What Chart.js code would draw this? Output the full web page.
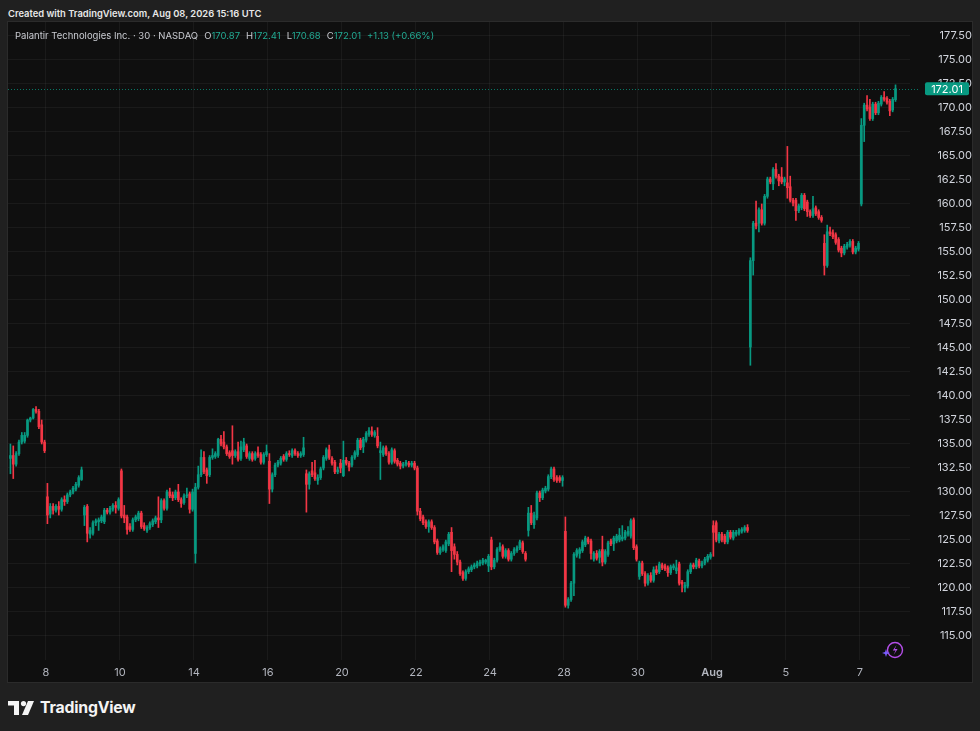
<!DOCTYPE html>
<html>
<head>
<meta charset="utf-8">
<script src="https://cdn.jsdelivr.net/npm/chart.js@4.4.1/dist/chart.umd.min.js"></script>
<style>
  html, body { margin: 0; padding: 0; background: #202020; }
  body { width: 980px; height: 731px; position: relative; overflow: hidden; font-family: Inter, "Noto Sans", sans-serif; }
  #created { position: absolute; left: 8px; top: 8px; color: #e8e8e8; font-size: 9.4px; font-weight: 600; }
  #panel { position: absolute; left: 8px; top: 22px; width: 964px; height: 660px; background: #0f0f0f; }
  #frame { position: absolute; left: 7px; top: 21px; width: 964px; height: 660px; border: 1px solid #2b2b2b; pointer-events: none; }
  #legend { position: absolute; left: 15px; top: 30px; color: #c9cbd1; font-size: 9.5px; white-space: nowrap; }
  #legend .v { color: #22ab94; }
  #legend .g { margin-left: 6px; }
  #logo { position: absolute; left: 8px; top: 698px; display: flex; align-items: center; }
  #logo span { color: #f4f4f4; font-size: 15.8px; font-weight: 700; margin-left: 6px; letter-spacing: -0.2px; }
  #bolt { position: absolute; left: 881px; top: 639px; }
</style>
</head>
<body>
<div id="created">Created with TradingView.com, Aug 08, 2026 15:16 UTC</div>
<div id="panel"><canvas id="chart" width="964" height="660"></canvas></div>
<div id="frame"></div>
<div id="legend">Palantir Technologies Inc. · 30 · NASDAQ<span class="g">O</span><span class="v">170.87</span><span class="g">H</span><span class="v">172.41</span><span class="g">L</span><span class="v">170.68</span><span class="g">C</span><span class="v">172.01</span><span class="v g">+1.13 (+0.66%)</span></div>
<svg id="bolt" width="24" height="22" viewBox="0 0 24 22">
  <circle cx="14" cy="11" r="7.5" fill="none" stroke="#b44ee8" stroke-width="1.4"/>
  <path d="M15.5 6 L11.8 11.5 L14.6 11.5 L12.6 16 L16.6 10 L13.8 10 Z" fill="#b44ee8"/>
  <path d="M5 10 L6 13 L9 14 L6 15 L5 18 L4 15 L1 14 L4 13 Z" fill="#7a5cff"/>
</svg>
<div id="logo">
  <svg width="26" height="14" viewBox="0 0 26 14">
    <path d="M0 0 H11 V14 H6 V4.5 H0 Z" fill="#f4f4f4"/>
    <circle cx="15.5" cy="2.6" r="2.6" fill="#f4f4f4"/>
    <path d="M20 0 H26 L20 14 H14 Z" fill="#f4f4f4"/>
  </svg>
  <span>TradingView</span>
</div>
<script>
// PLTR 30-minute bars, Jul 7 - Aug 7 (13 bars per session)
const opens = [
  133.5,133.8,132.9,134.0,135.2,135.3,135.9,137.5,137.7,138.6,138.4,137.0,135.2,
  129.5,127.7,128.5,128.1,128.5,128.2,129.2,129.0,129.7,130.0,130.3,130.7,131.3,
  127.6,128.5,125.6,125.7,126.8,126.9,127.0,126.9,128.1,127.9,128.2,128.6,128.3,
  132.2,127.6,127.4,126.4,126.1,127.1,127.2,127.8,126.5,126.0,126.3,126.6,126.9,
  127.3,127.1,129.1,128.3,130.0,129.7,129.4,130.0,129.2,128.9,129.6,129.8,128.2,
  123.6,130.5,131.8,133.6,132.3,131.8,133.6,133.7,133.8,135.5,135.2,134.7,134.1,
  134.3,133.8,134.2,133.5,134.4,134.8,133.5,134.0,133.5,134.1,133.9,133.1,133.9,
  133.2,130.3,131.8,132.8,133.0,133.7,133.4,134.0,133.8,134.3,134.0,133.8,133.9,
  131.9,130.8,132.2,132.0,131.2,131.5,132.5,133.5,134.4,133.5,133.1,132.1,133.0,
  131.7,133.3,133.0,132.8,133.6,133.9,135.4,134.7,135.4,136.0,136.3,135.9,135.8,
  134.1,133.9,134.6,134.0,133.1,134.3,133.3,133.0,132.7,132.9,133.0,132.8,133.0,
  132.5,128.0,127.4,126.9,126.4,126.9,126.3,124.9,123.7,124.0,123.9,124.6,125.8,
  124.3,123.5,122.7,121.6,121.0,121.7,121.9,122.2,122.3,122.5,122.6,122.7,122.3,
  125.0,122.2,122.9,124.0,124.3,123.3,123.9,123.0,123.6,123.9,124.2,124.7,123.6,
  126.0,127.8,126.6,127.3,129.9,129.4,130.1,130.3,131.6,132.4,131.5,131.5,131.2,
  125.9,118.2,118.8,120.5,123.4,123.6,123.9,124.5,125.1,124.9,123.0,123.6,123.2,
  124.0,122.7,123.5,124.9,124.6,124.9,125.0,125.1,125.2,125.6,125.4,127.1,124.3,
  121.2,122.6,121.5,120.5,121.3,120.8,121.9,121.7,122.4,122.3,122.1,121.6,122.1,
  121.8,122.5,120.6,120.0,120.2,121.7,122.4,122.2,122.8,122.3,122.6,122.9,123.2,
  126.5,126.8,124.9,125.6,125.4,124.8,125.8,125.2,125.6,125.7,125.9,126.0,126.3,
  145.1,154.1,158.0,158.0,159.4,158.0,160.8,162.6,162.1,163.6,162.9,162.8,162.3,
  162.2,161.8,160.4,160.4,159.3,159.6,160.9,160.2,159.2,158.8,159.6,159.2,158.6,
  155.9,153.6,157.1,157.0,156.8,156.3,155.4,154.9,155.5,155.7,156.1,155.0,155.3,
  160.0,168.2,170.3,170.1,168.9,170.4,169.5,170.4,171.1,171.0,170.7,169.8,170.87
];
const highs = [
  135.0,134.8,134.2,135.4,136.2,136.2,137.6,137.8,138.7,138.9,138.6,137.5,135.4,
  130.9,128.8,128.8,128.7,129.0,129.4,129.6,129.9,130.2,130.6,131.0,131.7,132.6,
  128.6,128.7,126.3,127.0,127.2,127.3,127.6,128.3,128.3,128.5,128.8,129.0,129.4,
  132.4,128.6,127.6,126.7,127.3,127.6,128.0,128.0,126.8,126.5,126.9,127.2,127.5,
  129.5,129.3,129.3,130.2,130.4,130.0,130.2,130.8,129.4,129.8,130.4,130.0,130.3,
  130.9,132.7,134.4,134.2,132.5,133.8,134.5,134.2,135.6,135.9,136.3,134.9,134.3,
  136.9,134.4,135.2,135.3,135.6,135.0,134.2,134.2,134.2,134.7,134.1,134.1,134.9,
  134.0,132.0,133.0,133.3,133.7,133.9,134.2,134.3,134.5,134.5,134.2,134.2,135.7,
  132.3,132.1,133.1,133.3,131.8,132.6,133.8,134.6,134.9,133.7,133.3,132.6,133.4,
  135.3,133.6,133.2,133.8,134.3,135.6,135.6,135.7,136.3,136.7,136.8,136.4,136.7,
  135.2,134.8,134.8,134.2,134.6,134.5,133.5,133.2,133.1,133.3,133.2,133.2,133.2,
  132.7,128.3,127.6,127.1,127.1,127.1,126.5,125.1,124.3,124.5,125.0,125.8,126.3,
  124.6,123.8,122.9,121.8,121.9,122.2,122.4,122.6,122.8,122.9,123.1,123.0,123.5,
  125.3,123.1,124.2,124.7,124.5,124.1,124.1,123.8,124.2,124.4,125.0,124.9,123.8,
  128.4,128.6,127.9,130.1,130.1,130.4,130.6,131.8,132.6,132.6,131.7,131.7,131.7,
  127.4,119.0,120.7,123.7,124.1,124.2,125.0,125.4,125.3,125.1,123.8,123.9,124.0,
  125.4,124.0,124.9,125.1,125.4,125.6,126.2,126.5,126.0,126.4,127.2,127.3,124.5,
  122.8,122.8,121.7,121.5,121.6,122.2,122.3,122.7,122.6,122.5,122.3,122.4,122.5,
  122.9,122.7,120.8,120.6,121.9,122.6,122.6,123.1,123.0,122.8,123.2,123.5,123.7,
  127.0,127.0,125.8,125.8,125.6,126.0,126.0,126.0,126.0,126.2,126.3,126.5,126.6,
  154.4,158.2,160.3,159.6,160.0,161.0,162.8,162.8,163.8,164.2,163.1,163.8,162.8,
  166.0,162.9,160.6,160.6,160.0,161.1,161.1,160.4,159.4,160.8,159.8,159.4,158.8,
  156.8,157.8,157.6,157.3,157.0,156.5,155.6,155.8,156.0,156.3,156.3,155.6,156.1,
  168.9,170.5,171.3,170.9,170.6,170.6,170.7,171.3,171.7,171.2,170.9,171.1,172.41
];
const lows = [
  131.9,131.4,132.7,133.8,135.0,135.1,135.7,137.3,137.6,138.2,136.6,135.0,134.1,
  126.7,127.3,127.7,127.9,127.6,128.0,128.6,128.8,129.5,129.8,130.1,130.5,131.2,
  126.5,124.8,125.2,125.5,126.5,126.0,126.8,126.7,127.7,127.7,128.0,127.8,128.1,
  127.3,126.8,125.6,125.9,125.9,126.9,127.0,126.2,126.0,125.8,126.1,126.4,126.7,
  126.3,126.8,128.1,128.1,129.4,129.1,129.2,129.0,128.4,128.7,129.4,127.8,128.0,
  122.6,130.3,131.6,131.9,130.9,131.6,133.4,133.5,133.6,134.8,134.5,133.8,133.5,
  132.9,133.6,133.2,133.3,134.2,133.5,133.3,133.2,133.3,133.6,132.9,132.9,133.7,
  128.8,130.0,131.6,132.6,132.8,133.2,133.2,133.7,133.6,133.8,133.6,133.6,133.7,
  127.9,130.3,131.6,131.2,130.8,131.3,132.3,133.3,133.4,132.8,131.9,131.9,132.0,
  131.6,132.8,132.2,132.6,133.4,133.7,134.4,134.1,135.2,135.8,135.8,135.7,134.6,
  131.3,133.7,133.8,132.9,132.9,133.0,132.7,132.4,132.5,132.7,132.6,132.6,132.3,
  127.6,127.0,126.6,126.2,125.8,126.1,124.6,123.5,123.5,123.8,123.7,124.4,121.7,
  123.0,122.4,121.3,120.8,120.8,121.5,121.7,122.0,122.1,122.3,122.4,122.5,121.7,
  121.9,122.0,122.7,123.8,123.1,123.1,122.8,122.8,123.4,123.7,124.0,123.6,122.8,
  125.4,126.6,126.2,127.1,129.0,129.2,129.9,130.1,131.4,131.1,131.0,131.0,130.6,
  118.0,117.9,118.6,119.2,123.2,123.1,123.7,124.3,124.6,123.0,122.8,122.9,122.6,
  122.3,122.5,123.3,124.4,123.9,124.7,124.8,124.9,125.0,125.4,125.2,124.0,122.8,
  120.9,121.3,120.2,120.3,120.6,120.6,121.4,121.5,121.9,121.8,121.2,121.4,121.9,
  121.5,120.3,119.6,119.6,120.0,121.5,122.0,122.0,122.1,122.1,122.4,122.7,123.0,
  123.3,124.8,124.7,124.8,124.6,124.6,125.1,125.0,125.4,125.5,125.7,125.8,125.8,
  143.2,152.6,157.4,157.1,157.8,157.8,160.6,162.1,161.5,162.7,161.9,162.1,161.9,
  160.6,160.2,159.8,158.3,159.1,159.4,159.3,158.7,158.6,158.6,158.8,158.4,158.1,
  152.6,153.4,156.7,156.4,155.8,155.0,154.5,154.7,155.3,155.5,154.8,154.8,155.1,
  159.8,166.5,169.7,168.7,168.7,169.3,169.3,170.2,170.7,170.4,169.2,169.6,170.68
];
const closes = [
  133.8,132.9,134.0,135.2,135.9,135.9,137.5,137.7,138.6,138.4,136.8,135.2,134.3,
  127.6,128.5,128.1,128.5,128.2,129.2,129.0,129.7,130.0,130.4,130.8,131.5,132.3,
  128.4,125.7,126.0,126.8,127.0,127.1,127.4,128.1,127.9,128.3,128.6,128.4,129.2,
  127.5,127.3,126.1,126.1,127.1,127.4,127.8,126.4,126.2,126.3,126.7,127.0,127.3,
  127.1,129.1,128.3,130.0,129.6,129.4,130.0,129.2,128.8,129.6,129.7,128.2,130.0,
  130.5,131.8,133.6,132.1,131.7,133.6,133.8,134.0,135.5,135.0,134.7,134.0,133.7,
  133.8,134.2,133.4,134.7,135.2,133.7,134.0,133.4,134.0,133.8,133.1,133.9,134.2,
  130.3,131.8,132.8,133.1,133.5,133.4,134.0,133.9,134.3,134.0,133.8,134.0,134.6,
  130.8,131.9,131.8,131.4,131.5,132.4,133.6,134.4,133.6,133.0,132.1,132.3,132.5,
  133.3,133.0,132.6,133.6,134.1,135.4,134.6,135.5,136.1,136.4,136.0,136.2,134.8,
  134.3,134.6,134.0,133.1,134.4,133.2,132.9,132.7,132.9,133.1,132.8,133.0,132.5,
  128.0,127.2,126.8,126.4,126.9,126.3,124.8,123.7,124.1,124.3,124.8,125.6,123.9,
  123.5,122.7,121.5,121.0,121.7,122.0,122.2,122.4,122.6,122.7,122.9,122.9,123.3,
  122.2,122.9,124.0,124.3,123.3,123.9,123.0,123.6,124.0,124.2,124.8,123.8,123.0,
  127.8,126.8,127.6,129.9,129.4,130.2,130.4,131.6,132.4,131.3,131.2,131.2,131.5,
  118.2,118.8,120.5,123.5,123.9,124.0,124.8,125.2,124.8,123.6,123.6,123.1,123.8,
  122.7,123.8,124.7,124.6,125.2,125.4,125.5,125.3,125.8,125.9,127.0,124.2,123.0,
  122.6,121.5,120.5,121.3,120.8,121.9,121.6,122.5,122.1,122.0,121.6,122.2,122.3,
  122.1,120.5,120.4,120.3,121.7,122.4,122.2,122.9,122.3,122.6,123.0,123.3,123.5,
  125.8,125.0,125.6,125.0,124.8,125.8,125.3,125.8,125.8,126.0,126.1,126.3,126.0,
  154.1,158.0,157.7,159.4,158.0,160.8,162.6,162.3,163.6,162.9,162.4,162.3,162.6,
  161.7,160.4,160.1,159.3,159.8,160.9,159.5,159.2,158.8,159.5,159.0,158.6,158.3,
  153.6,157.1,156.9,156.6,156.0,155.2,154.9,155.6,155.8,156.1,155.0,155.4,155.9,
  168.2,170.3,169.9,168.9,170.4,169.5,170.5,171.1,170.9,170.6,169.7,170.9,172.01
];
// time axis: label text and session index (0 = Jul 7)
const dayLabels = ['8', '10', '14', '16', '20', '22', '24', '28', '30', 'Aug', '5', '7'];
const daySessions = [1, 3, 5, 7, 9, 11, 13, 15, 17, 19, 21, 23];
const barsPerDay = 13;
// price axis
const priceTicks = [115, 117.5, 120, 122.5, 125, 127.5, 130, 132.5, 135, 137.5, 140, 142.5, 145, 147.5,
  150, 152.5, 155, 157.5, 160, 162.5, 165, 167.5, 170, 172.5, 175, 177.5];
const lastPrice = 172.01;

const UP = '#089981';
const DOWN = '#f23645';
const colors = opens.map((o, i) => closes[i] >= o ? UP : DOWN);

const wickData = opens.map((o, i) => ({ x: i, y: [lows[i], highs[i]] }));
const bodyData = opens.map((o, i) => ({ x: i, y: [o, closes[i]] }));

// scales must not push the plot area in: the panel is laid out like TradingView's
const noPadding = scale => {
    scale.paddingTop = 0;
    scale.paddingBottom = 0;
    scale.paddingLeft = 0;
    scale.paddingRight = 0;
};

const lastPriceMarker = {
    id: 'lastPriceMarker',
    beforeDatasetsDraw(chart) {
        const { ctx, chartArea } = chart;
        const y = Math.round(chart.scales.y.getPixelForValue(lastPrice)) + 0.5;
        ctx.save();
        ctx.strokeStyle = 'rgba(8,153,129,0.75)';
        ctx.lineWidth = 1;
        ctx.setLineDash([1, 2]);
        ctx.beginPath();
        ctx.moveTo(chartArea.left, y);
        ctx.lineTo(chartArea.right + 10, y);
        ctx.stroke();
        ctx.restore();
    },
    afterDraw(chart) {
        const { ctx } = chart;
        const y = chart.scales.y.getPixelForValue(lastPrice);
        ctx.save();
        ctx.fillStyle = UP;
        ctx.beginPath();
        ctx.roundRect(917, y - 6.5, 44, 13, 2);
        ctx.fill();
        ctx.fillStyle = '#ffffff';
        ctx.font = '11px Inter, "Noto Sans", sans-serif';
        ctx.textAlign = 'center';
        ctx.textBaseline = 'middle';
        ctx.fillText(lastPrice.toFixed(2), 939, y + 0.5);
        ctx.restore();
    }
};

const chart = new Chart(document.getElementById('chart'), {
    type: 'bar',
    data: {
        datasets: [
            {
                data: wickData,
                backgroundColor: colors,
                barThickness: 1,
                grouped: false,
                minBarLength: 1
            },
            {
                data: bodyData,
                backgroundColor: colors,
                barThickness: 2,
                grouped: false,
                minBarLength: 1
            }
        ]
    },
    options: {
        responsive: false,
        animation: false,
        events: [],
        layout: { padding: 0, autoPadding: false },
        plugins: { legend: { display: false }, tooltip: { enabled: false } },
        scales: {
            x: {
                type: 'linear',
                min: -0.851,
                max: 316.09,
                bounds: 'data',
                offset: false,
                border: { display: false },
                grid: { color: 'rgba(242,242,242,0.05)', drawTicks: false, offset: false },
                afterBuildTicks: scale => {
                    scale.ticks = daySessions.map(d => ({ value: barsPerDay * d - 0.5 }));
                },
                afterFit: scale => {
                    scale.height = 22;
                    noPadding(scale);
                },
                ticks: {
                    autoSkip: false,
                    maxRotation: 0,
                    padding: 6,
                    color: '#b2b5be',
                    font: ctx => ({
                        family: 'Inter, "Noto Sans", sans-serif',
                        size: 11,
                        weight: dayLabels[ctx.index] === 'Aug' ? '600' : '400'
                    }),
                    callback: (value, index) => dayLabels[index]
                }
            },
            y: {
                type: 'linear',
                position: 'right',
                min: 112.5,
                max: 178.958,
                bounds: 'data',
                beginAtZero: false,
                border: { display: false },
                grid: { color: 'rgba(242,242,242,0.05)', drawTicks: false },
                afterBuildTicks: scale => {
                    scale.ticks = priceTicks.map(v => ({ value: v }));
                },
                afterFit: scale => {
                    scale.width = 62;
                    noPadding(scale);
                },
                ticks: {
                    crossAlign: 'far',
                    padding: 20,
                    color: '#d1d4dc',
                    font: { family: 'Inter, "Noto Sans", sans-serif', size: 11 },
                    callback: value => value.toFixed(2)
                }
            }
        }
    },
    plugins: [lastPriceMarker]
});
</script>
</body>
</html>
